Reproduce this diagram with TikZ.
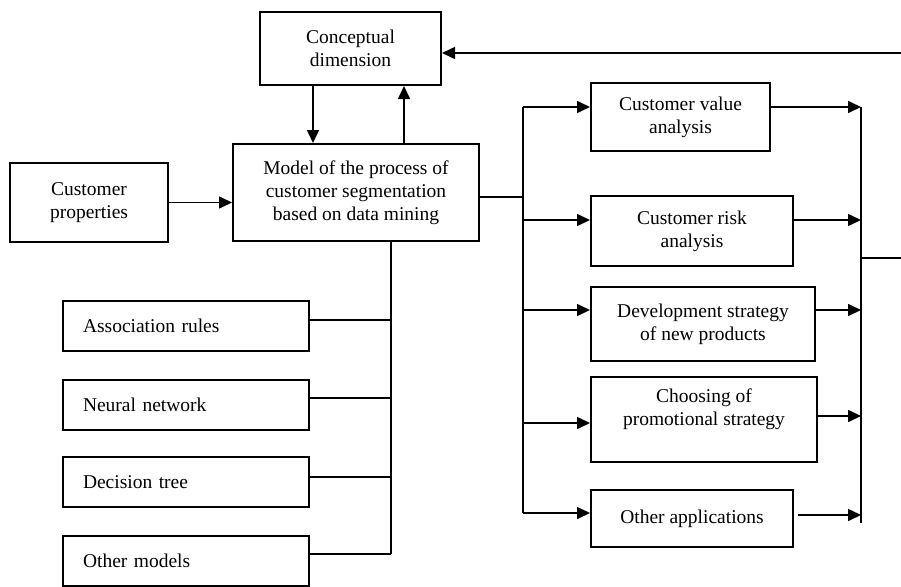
\documentclass[tikz,border=0pt]{standalone}
\usepackage{fontspec}
\setmainfont{Liberation Serif}
\usetikzlibrary{arrows.meta}
\begin{document}
\begin{tikzpicture}[x=1pt,y=-1pt,
  box/.style={draw, line width=2pt, inner sep=0pt, align=center,
    font=\fontsize{19.5}{23}\selectfont},
  lbox/.style={draw, line width=2pt, inner ysep=0pt, inner xsep=20pt,
    text width=206pt, minimum height=50pt, align=left,
    font=\fontsize{19.5}{23}\selectfont},
  txt/.style={inner sep=0pt, align=center, font=\fontsize{19.5}{23}\selectfont},
  conn/.style={line width=1.6pt},
  arr/.style={line width=1.6pt, -{Triangle[length=13pt,width=12pt]}}]
\useasboundingbox (0,0) rectangle (901,586);
% boxes
\node[box, minimum width=181pt, minimum height=73pt] (concept) at (350.5,48.5) {Conceptual\\dimension};
\node[box, minimum width=246pt, minimum height=97pt] (model) at (356,192.5) {Model of the process of\\customer segmentation\\based on data mining};
\node[box, minimum width=158pt, minimum height=79pt] (props) at (89,202.5) {Customer\\properties};
\node[lbox] (assoc) at (186,326) {Association rules};
\node[lbox] (neural) at (186,404.5) {Neural network};
\node[lbox] (dtree) at (186,482) {Decision tree};
\node[lbox] (omodels) at (186,560.5) {Other models};
\node[box, minimum width=179pt, minimum height=68pt] (cva) at (680.5,117) {Customer value\\analysis};
\node[box, minimum width=202pt, minimum height=70pt] (cra) at (692,231) {Customer risk\\analysis};
\node[box, minimum width=224pt, minimum height=74pt] (dev) at (703,324) {Development strategy\\of new products};
\node[box, minimum width=226pt, minimum height=85pt] (choose) at (704,419.5) {};
\node[txt] (choosetxt) at (704,409) {Choosing of\\promotional strategy};
\node[box, minimum width=202pt, minimum height=57pt] (oapp) at (692,518.5) {Other applications};
% coordinates
\coordinate (cx1) at (313,0);
\coordinate (cx2) at (404,0);
\coordinate (fb) at (901,53);
\coordinate (lb) at (391,554);
\coordinate (mj) at (523,197);
\coordinate (a1) at (523,107);
\coordinate (a2) at (523,220);
\coordinate (a3) at (523,310);
\coordinate (a4) at (523,423);
\coordinate (a5) at (523,513);
\coordinate (r1) at (861,107);
\coordinate (r2) at (861,220);
\coordinate (r3) at (861,310);
\coordinate (r4) at (861,416);
\coordinate (r5) at (861,515);
\coordinate (rb) at (861,523);
\coordinate (ex) at (901,258);
% connectors
\draw[arr] (fb) -- (concept.east |- fb);
\draw[arr] (concept.south -| cx1) -- (model.north -| cx1);
\draw[arr] (model.north -| cx2) -- (concept.south -| cx2);
\draw[arr] (props.east) -- (model.west |- props.east);
\draw[conn] (model.south -| lb) -- (lb);
\draw[conn] ([yshift=6pt]assoc.east) -- ([yshift=6pt]assoc.east -| lb);
\draw[conn] ([yshift=6.5pt]neural.east) -- ([yshift=6.5pt]neural.east -| lb);
\draw[conn] ([yshift=5pt]dtree.east) -- ([yshift=5pt]dtree.east -| lb);
\draw[conn] ([yshift=6.5pt]omodels.east) -- (lb);
\draw[conn] (model.east |- mj) -- (mj);
\draw[conn] (a1) -- (a5);
\draw[arr] (a1) -- (cva.west |- a1);
\draw[arr] (a2) -- (cra.west |- a2);
\draw[arr] (a3) -- (dev.west |- a3);
\draw[arr] (a4) -- (choose.west |- a4);
\draw[arr] (a5) -- (oapp.west |- a5);
\draw[conn] (r1) -- (rb);
\draw[arr] (cva.east |- r1) -- (r1);
\draw[arr] (cra.east |- r2) -- (r2);
\draw[arr] (dev.east |- r3) -- (r3);
\draw[arr] (choose.east |- r4) -- (r4);
\draw[arr] ([xshift=4pt]oapp.east |- r5) -- (r5);
\draw[conn] (r2 |- ex) -- (ex);
\end{tikzpicture}
\end{document}
